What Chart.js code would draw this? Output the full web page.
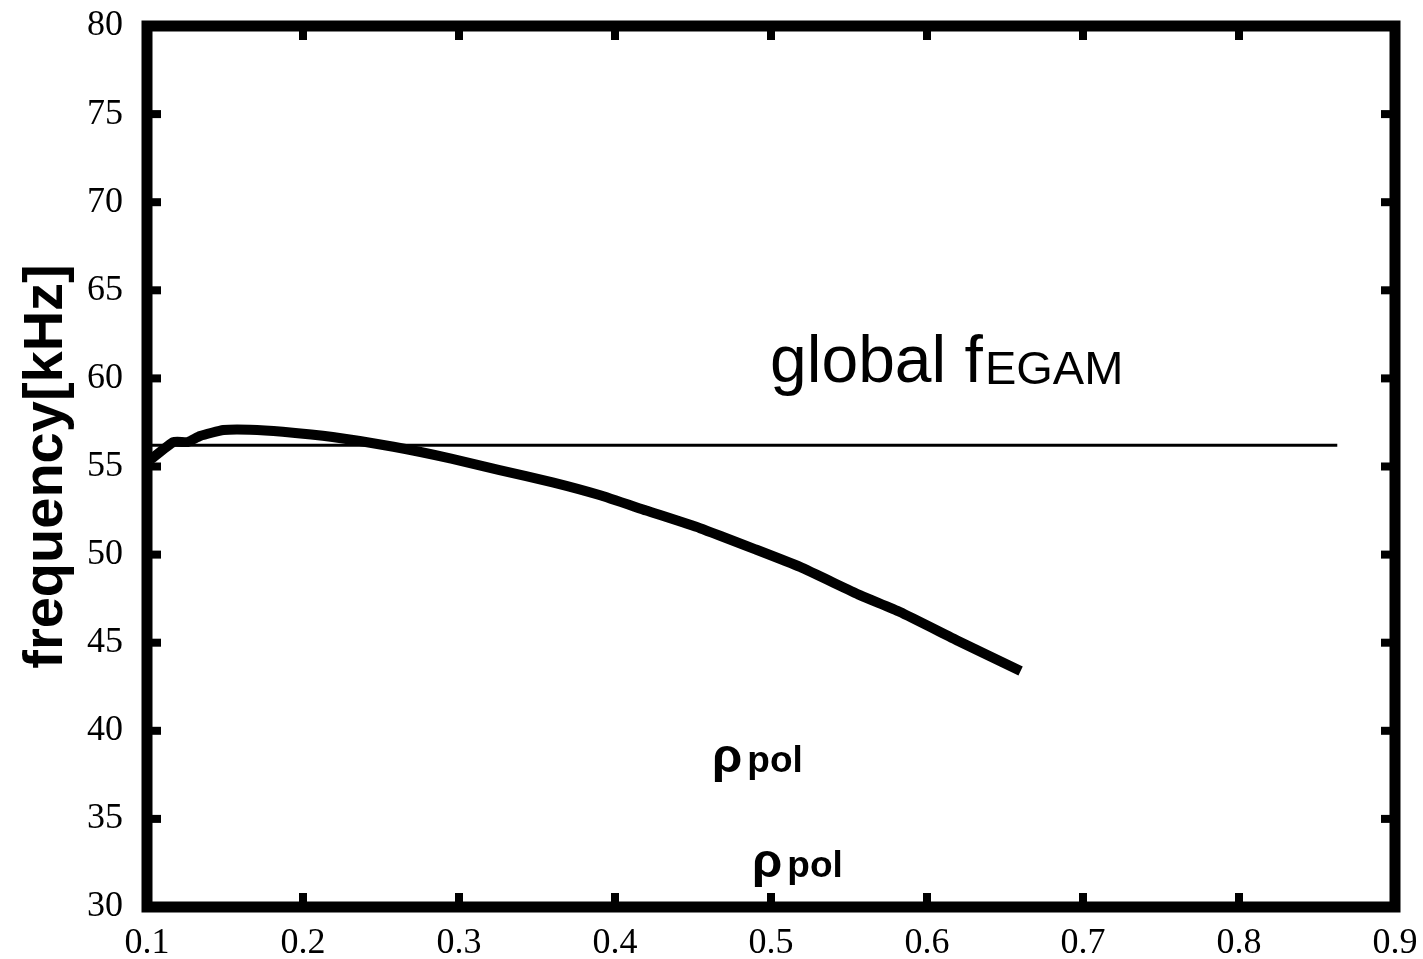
<!DOCTYPE html>
<html>
<head>
<meta charset="UTF-8">
<title>global fEGAM</title>
<script src="https://cdn.jsdelivr.net/npm/chart.js"></script>
<style>
    body { margin: 0; background: #fff; }
    #wrap { width: 1423px; height: 959px; position: relative; }
</style>
</head>
<body>
<div id="wrap"><canvas id="c"></canvas></div>
<script>
// data
const rhoPol = [0.102, 0.117, 0.126, 0.134, 0.149, 0.166, 0.187, 0.219, 0.258, 0.295, 0.326, 0.36, 0.39, 0.42, 0.4545, 0.49, 0.5186, 0.557, 0.5827, 0.62, 0.66];
const freqLocal = [55.37, 56.39, 56.39, 56.73, 57.07, 57.09, 56.97, 56.67, 56.12, 55.45, 54.8, 54.1, 53.38, 52.5, 51.5, 50.3, 49.3, 47.7, 46.74, 45.1, 43.4];
const globalX = [0.1, 0.863];
const globalF = [56.2, 56.2];
const xTicks = [0.1, 0.2, 0.3, 0.4, 0.5, 0.6, 0.7, 0.8, 0.9];
const yTicks = [30, 35, 40, 45, 50, 55, 60, 65, 70, 75, 80];

const pts = (xs, ys) => xs.map((x, i) => ({ x: x, y: ys[i] }));

// frame with inward ticks on all four sides
const framePlugin = {
    id: 'frame',
    afterDraw(chart) {
        const ctx = chart.ctx;
        const a = chart.chartArea;
        const sx = chart.scales.x, sy = chart.scales.y;
        ctx.save();
        ctx.fillStyle = '#000';
        ctx.strokeStyle = '#000';
        ctx.lineWidth = 11;
        ctx.strokeRect(a.left, a.top, a.right - a.left, a.bottom - a.top);
        const len = 14, w = 8;
        xTicks.slice(1, -1).forEach(v => {
            const px = sx.getPixelForValue(v);
            ctx.fillRect(px - w / 2, a.top, w, len);
            ctx.fillRect(px - w / 2, a.bottom - len, w, len);
        });
        yTicks.slice(1, -1).forEach(v => {
            const py = sy.getPixelForValue(v);
            ctx.fillRect(a.left, py - w / 2, len, w);
            ctx.fillRect(a.right - len, py - w / 2, len, w);
        });
        ctx.restore();
    }
};

// text labels with subscripts
function subText(ctx, x, y, main, sub, mainFont, subFont, gap, drop) {
    ctx.font = mainFont;
    ctx.fillText(main, x, y);
    const w = ctx.measureText(main).width;
    ctx.font = subFont;
    ctx.fillText(sub, x + w + gap, y + drop);
}

const labelPlugin = {
    id: 'labels',
    afterDraw(chart) {
        const ctx = chart.ctx;
        const sx = chart.scales.x, sy = chart.scales.y;
        ctx.save();
        ctx.fillStyle = '#000';
        ctx.textBaseline = 'alphabetic';
        ctx.textAlign = 'left';
        subText(ctx, sx.getPixelForValue(0.4994), sy.getPixelForValue(59.8),
            'global f', 'EGAM', '66px "Liberation Sans"', '47px "Liberation Sans"', 2, 2);
        subText(ctx, sx.getPixelForValue(0.4622), sy.getPixelForValue(37.66),
            'ρ', 'pol', 'bold 49px "Liberation Sans"', 'bold 37px "Liberation Sans"', 5, 0);
        subText(ctx, sx.getPixelForValue(0.4878), sy.getPixelForValue(31.7),
            'ρ', 'pol', 'bold 49px "Liberation Sans"', 'bold 37px "Liberation Sans"', 5, 0);
        ctx.restore();
    }
};

new Chart(document.getElementById('c'), {
    type: 'scatter',
    data: {
        datasets: [
            {
                data: pts(globalX, globalF),
                showLine: true,
                borderColor: '#000',
                borderWidth: 3,
                pointRadius: 0,
                tension: 0
            },
            {
                data: pts(rhoPol, freqLocal),
                showLine: true,
                borderColor: '#000',
                borderWidth: 10,
                borderJoinStyle: 'round',
                pointRadius: 0,
                tension: 0.15
            }
        ]
    },
    options: {
        responsive: true,
        maintainAspectRatio: false,
        animation: false,
        layout: { padding: { top: 26, right: 28, left: 0, bottom: 0 } },
        plugins: { legend: { display: false }, tooltip: { enabled: false } },
        scales: {
            x: {
                type: 'linear',
                min: 0.1, max: 0.9,
                afterBuildTicks: s => { s.ticks = xTicks.map(v => ({ value: v })); },
                afterFit: s => { s.height = 52; s.paddingLeft = 0; s.paddingRight = 0; },
                grid: { display: false, drawTicks: false },
                border: { display: false },
                ticks: {
                    padding: 15,
                    color: '#000',
                    font: { family: '"Liberation Serif"', size: 36 },
                    callback: v => v.toFixed(1)
                }
            },
            y: {
                min: 30, max: 80,
                afterBuildTicks: s => { s.ticks = yTicks.map(v => ({ value: v })); },
                afterFit: s => { s.width = 147; s.paddingTop = 0; s.paddingBottom = 0; },
                grid: { display: false, drawTicks: false },
                border: { display: false },
                ticks: {
                    padding: 24,
                    color: '#000',
                    font: { family: '"Liberation Serif"', size: 36 }
                },
                title: {
                    display: true,
                    text: 'frequency[kHz]',
                    color: '#000',
                    font: { family: '"Liberation Sans"', size: 56, weight: 'bold' },
                    padding: { top: 13, bottom: 0 }
                }
            }
        }
    },
    plugins: [framePlugin, labelPlugin]
});
</script>
</body>
</html>
